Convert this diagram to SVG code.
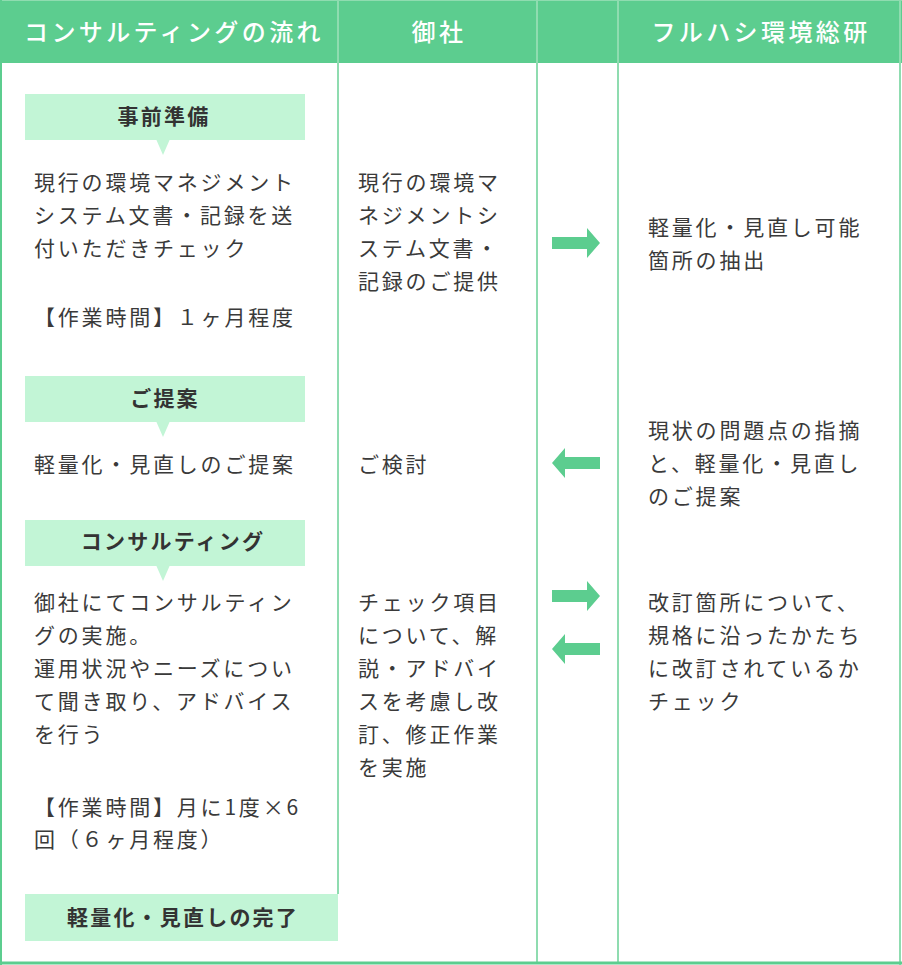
<svg xmlns="http://www.w3.org/2000/svg" width="902" height="965" viewBox="0 0 902 965">
<style>
.hd{font-family:"Noto Sans CJK JP","Noto Sans",sans-serif;font-size:24px;font-weight:500;fill:#fff;letter-spacing:3.4px}
.t{font-family:"Noto Sans CJK JP","Noto Sans",sans-serif;font-size:21px;fill:#3a3a3a;letter-spacing:2.8px}
.st{font-family:"Noto Sans CJK JP","Noto Sans",sans-serif;font-size:21px;font-weight:700;fill:#333;letter-spacing:2.2px}
.box{fill:#c2f5d6}
.arr{fill:#5ccd8f}
.col{stroke:#8fdcb0;stroke-width:2;fill:none}
</style>
<rect x="0" y="0" width="902" height="965" fill="#fff"/>
<g id="header">
<rect x="0" y="0" width="902" height="63" fill="#5ccd8f"/>
<text class="hd" x="24" y="41">コンサルティングの流れ</text>
<text class="hd" x="439" y="41" text-anchor="middle">御社</text>
<text class="hd" x="761" y="41" text-anchor="middle">フルハシ環境総研</text>
</g>
<g id="grid">
<line class="col" x1="338" y1="0" x2="338" y2="894"/>
<line class="col" x1="537" y1="0" x2="537" y2="963"/>
<line class="col" x1="618" y1="0" x2="618" y2="963"/>
<line x1="0" y1="0.5" x2="902" y2="0.5" stroke="#8fdcb0" stroke-width="1"/>
<line x1="1" y1="0" x2="1" y2="965" stroke="#5ccd8f" stroke-width="2"/>
<line x1="900" y1="0" x2="900" y2="965" stroke="#8fdcb0" stroke-width="2"/>
<line x1="0" y1="963" x2="902" y2="963" stroke="#5ccd8f" stroke-width="3"/>
</g>
<g id="step1">
<rect class="box" x="25" y="94" width="280" height="46"/>
<polygon class="box" points="156,139 170,139 163,155"/>
<text class="st" x="164" y="124" text-anchor="middle">事前準備</text>
<text class="t" x="34" y="190">現行の環境マネジメント</text>
<text class="t" x="34" y="223">システム文書・記録を送</text>
<text class="t" x="34" y="256">付いただきチェック</text>
<text class="t" x="34" y="325">【作業時間】１ヶ月程度</text>
</g>
<g id="step2">
<rect class="box" x="25" y="376" width="280" height="46"/>
<polygon class="box" points="156,421 170,421 163,437"/>
<text class="st" x="165" y="406" text-anchor="middle">ご提案</text>
<text class="t" x="34" y="472">軽量化・見直しのご提案</text>
</g>
<g id="step3">
<rect class="box" x="25" y="520" width="280" height="46"/>
<polygon class="box" points="156,565 170,565 163,581"/>
<text class="st" x="173" y="549" text-anchor="middle">コンサルティング</text>
<text class="t" x="34" y="610">御社にてコンサルティン</text>
<text class="t" x="34" y="643">グの実施。</text>
<text class="t" x="34" y="676">運用状況やニーズについ</text>
<text class="t" x="34" y="709">て聞き取り、アドバイス</text>
<text class="t" x="34" y="742">を行う</text>
<text class="t" x="34" y="815">【作業時間】月に1度×6</text>
<text class="t" x="34" y="847">回（６ヶ月程度）</text>
</g>
<g id="step4">
<rect class="box" x="25" y="894" width="313" height="47"/>
<text class="st" x="183" y="925" text-anchor="middle">軽量化・見直しの完了</text>
</g>
<g id="client">
<text class="t" x="358" y="190">現行の環境マ</text>
<text class="t" x="358" y="223">ネジメントシ</text>
<text class="t" x="358" y="256">ステム文書・</text>
<text class="t" x="358" y="289">記録のご提供</text>
<text class="t" x="358" y="472">ご検討</text>
<text class="t" x="358" y="610">チェック項目</text>
<text class="t" x="358" y="643">について、解</text>
<text class="t" x="358" y="676">説・アドバイ</text>
<text class="t" x="358" y="709">スを考慮し改</text>
<text class="t" x="358" y="742">訂、修正作業</text>
<text class="t" x="358" y="775">を実施</text>
</g>
<g id="furuhashi">
<text class="t" x="648" y="235">軽量化・見直し可能</text>
<text class="t" x="648" y="268">箇所の抽出</text>
<text class="t" x="648" y="438">現状の問題点の指摘</text>
<text class="t" x="648" y="471">と、軽量化・見直し</text>
<text class="t" x="648" y="504">のご提案</text>
<text class="t" x="648" y="610">改訂箇所について、</text>
<text class="t" x="648" y="643">規格に沿ったかたち</text>
<text class="t" x="648" y="676">に改訂されているか</text>
<text class="t" x="648" y="709">チェック</text>
</g>
<g id="connectors">
<defs>
<polygon id="ra" points="0,-6 35,-6 35,-15 48,0 35,15 35,6 0,6"/>
</defs>
<use href="#ra" class="arr" x="552" y="243"/>
<use href="#ra" class="arr" transform="translate(600,463) scale(-1,1)"/>
<use href="#ra" class="arr" x="552" y="596"/>
<use href="#ra" class="arr" transform="translate(600,649) scale(-1,1)"/>
</g>
</svg>
